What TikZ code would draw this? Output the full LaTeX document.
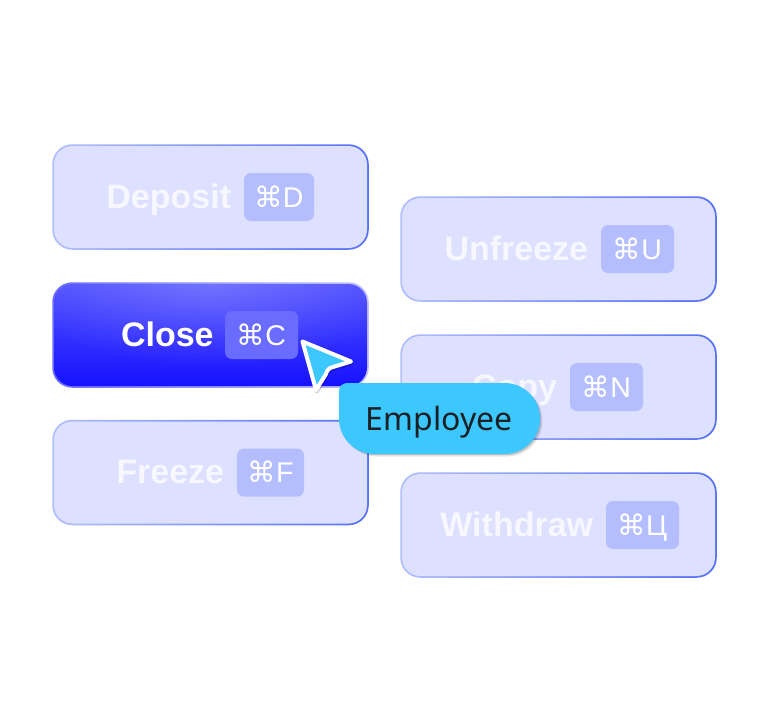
\documentclass[tikz,border=0pt]{standalone}
\usepackage{fontspec}
\setmainfont{Liberation Sans}
\newfontfamily\cmdfont{DejaVu Sans}
\newfontfamily\tagfont{Noto Sans}
\usetikzlibrary{positioning,fadings}
\definecolor{paleblue}{HTML}{DDE1FF}
\definecolor{keyblue}{HTML}{B4BEFF}
\definecolor{edgeleft}{HTML}{B2BFFF}
\definecolor{edgeright}{HTML}{5570F5}
\definecolor{closekey}{HTML}{6A6CFF}
\definecolor{closetop}{HTML}{5050FF}
\definecolor{closemid}{HTML}{3C3CFF}
\definecolor{closebottom}{HTML}{1712FF}
\definecolor{tagblue}{HTML}{3CC8FF}
\definecolor{tagtext}{HTML}{1C2024}
\definecolor{labeltext}{HTML}{F6F7FF}
\tikzfading[name=glowfade,inner color=transparent!80,outer color=transparent!100]
\begin{document}
\begin{tikzpicture}[x=1pt,y=-1pt,
                    edge node/.style={minimum width=316.5pt,minimum height=105.5pt,rounded corners=20pt,inner sep=0pt,
                      left color=edgeleft,right color=edgeright},
                    button node/.style={minimum width=313pt,minimum height=102pt,rounded corners=18.5pt,inner sep=0pt,fill=paleblue},
                    key node/.style={minimum height=48pt,rounded corners=7pt,inner sep=0pt,fill=keyblue,text=white,
                      font=\fontsize{28.5}{30}\selectfont,text height=20pt,text depth=0pt},
                    text node/.style={inner sep=0pt,text=labeltext,font=\fontsize{34}{36}\selectfont\bfseries,
                      text height=28pt,text depth=6pt}]
  \useasboundingbox (0,0) rectangle (768,720);
  \fill[white] (0,0) rectangle (768,720);

  % pale buttons
  \foreach \name/\xc/\yc/\btntext/\keyx/\keyw/\glyph in {
      deposit/210.5/197/Deposit/279/70/D,
      freeze/210.5/472.5/Freeze/270.5/67/F,
      unfreeze/558.5/249/Unfreeze/637.5/73/U,
      copy/558.5/387/Copy/606.5/73/N,
      withdraw/558.5/525/Withdraw/642.5/73/Ц}
  {
    \node[edge node] (\name edge) at (\xc,\yc) {};
    \node[button node] (\name) at (\xc,\yc) {};
    \node[key node,minimum width=\keyw pt] (\name key) at (\keyx,\yc) {{\cmdfont ⌘}\glyph};
    \node[text node,left=12.5pt of \name key] (\name text) {\btntext};
  }

  % active button
  \node[edge node,left color=closekey,right color=white!60!closekey] (closeedge) at (210.5,335) {};
  \node[button node,fill=none,top color=closetop,middle color=closemid,bottom color=closebottom] (close) at (210.5,335) {};
  \begin{scope}
    \clip[rounded corners=18.5pt] (close.north west) rectangle (close.south east);
    \fill[white,path fading=glowfade,fit fading] (210.5,283) ellipse [x radius=200,y radius=85];
  \end{scope}
  \node[key node,fill=closekey,minimum width=73pt] (closekey) at (261.5,335) {{\cmdfont ⌘}C};
  \node[text node,text=white,left=11pt of closekey] (closetext) {Close};

  % cursor
  \draw[black,opacity=.18,line width=4pt,line join=round,shift={(.8,1.5)}]
    (302.5,341.5) -- (351,361.5) -- (333,367) .. controls (329,368) and (327,370) .. (326,374) -- (316,390) -- cycle;
  \draw[white,line width=4pt,line join=round,fill=tagblue]
    (302.5,341.5) -- (351,361.5) -- (333,367) .. controls (329,368) and (327,370) .. (326,374) -- (316,390) -- cycle;

  % tag
  \foreach \off/\shade in {2.5/.10,1.2/.16}
    \fill[black,opacity=\shade,shift={(\off,\off)}]
      (339,391) arc[start angle=180,end angle=270,radius=8] -- (504.5,383)
      arc[start angle=270,end angle=450,radius=35.5] -- (374.5,454)
      arc[start angle=90,end angle=180,radius=35.5] -- cycle;
  \fill[tagblue]
    (339,391) arc[start angle=180,end angle=270,radius=8] -- (504.5,383)
    arc[start angle=270,end angle=450,radius=35.5] -- (374.5,454)
    arc[start angle=90,end angle=180,radius=35.5] -- cycle;
  \node[inner sep=0pt,text=tagtext,font=\tagfont\fontsize{32}{36}\selectfont,text height=26pt,text depth=6pt] (tagtext) at (439,420) {Employee};
\end{tikzpicture}
\end{document}
